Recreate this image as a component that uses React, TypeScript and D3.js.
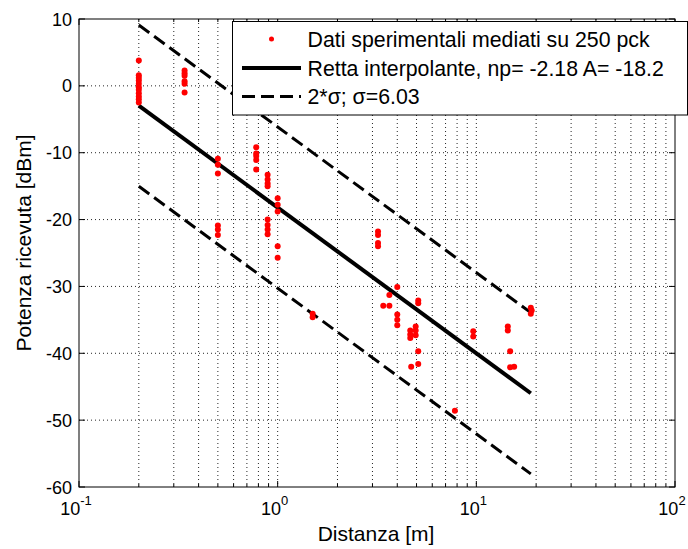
import React from 'react';
import * as d3 from 'd3';

// Data (distance [m], received power [dBm])
const distances = [
  0.2, 0.2, 0.2, 0.2, 0.2, 0.2, 0.2, 0.2, 0.2, 0.2, 0.2,
  0.34, 0.34, 0.34, 0.34, 0.34, 0.34,
  0.5, 0.5, 0.5, 0.5, 0.5, 0.5,
  0.78, 0.78, 0.78, 0.78, 0.78,
  0.89, 0.89, 0.89, 0.89, 0.89, 0.89, 0.89, 0.89,
  1.0, 1.0, 1.0, 1.0, 1.0,
  1.5, 1.5,
  3.2, 3.2, 3.2, 3.2,
  3.4, 3.65, 3.65,
  4.0, 4.0, 4.0, 4.0,
  4.65, 4.65, 4.65, 4.7,
  4.95, 4.95, 4.95,
  5.1, 5.1, 5.1, 5.1,
  7.8,
  9.65, 9.65,
  14.4, 14.4,
  14.8, 14.8, 15.5,
  18.8, 18.8, 19.0,
];
const powers = [
  3.8, 1.6, 1.2, 0.8, 0.3, -0.2, -0.6, -1.1, -1.6, -2.0, -2.5,
  2.3, 1.9, 1.5, 0.7, 0.3, -1.0,
  -10.9, -11.8, -13.1, -20.9, -21.5, -22.3,
  -9.2, -10.1, -10.5, -11.1, -12.5,
  -13.3, -14.0, -14.6, -15.0, -20.0, -20.8, -21.5, -22.2,
  -16.8, -17.8, -18.8, -24.0, -25.7,
  -34.1, -34.6,
  -21.8, -22.3, -23.5, -24.0,
  -32.9, -32.9, -31.3,
  -30.1, -34.2, -35.0, -35.8,
  -36.6, -37.2, -37.7, -42.0,
  -36.0, -36.6, -37.3,
  -32.1, -32.5, -39.7, -41.6,
  -48.6,
  -36.7, -37.5,
  -36.0, -36.6,
  -39.7, -42.1, -42.0,
  -33.2, -34.1, -33.6,
];

const np = -2.18;
const A = -18.2;
const sigma = 6.03;
const fitRange = [0.2, 18.8];

const xTickExps = [-1, 0, 1, 2];
const yTicks = [10, 0, -10, -20, -30, -40, -50, -60];
const legendLabels = [
  'Dati sperimentali mediati su 250 pck',
  'Retta interpolante, np= -2.18 A= -18.2',
  '2*σ; σ=6.03',
];
const xLabel = 'Distanza [m]';
const yLabel = 'Potenza ricevuta [dBm]';

const FONT = '"Liberation Sans", Arial, Helvetica, sans-serif';

export default function App() {
  const W = 688, H = 549;
  const left = 79, right = 675, top = 19, bottom = 487;
  const x = d3.scaleLog().domain([0.1, 100]).range([left, right]);
  const y = d3.scaleLinear().domain([-60, 10]).range([bottom, top]);

  const majors = xTickExps.map((e) => Math.pow(10, e));
  const minors: number[] = [];
  [0.1, 1, 10].forEach((dec) => {
    for (let k = 2; k <= 9; k++) minors.push(k * dec);
  });

  const fit = (d: number, off: number) => A + 10 * np * Math.log10(d) + off;
  const line = d3
    .line<[number, number]>()
    .x((p) => x(p[0]))
    .y((p) => y(p[1]));
  const mk = (off: number) =>
    line(fitRange.map((d) => [d, fit(d, off)] as [number, number])) || '';

  const gridStyle = { stroke: '#000', strokeWidth: 1, strokeDasharray: '1,3', opacity: 0.85 };

  const legX = 232.5, legY = 21.5, legW = 455, legH = 93.5;
  const rowY = [39, 68, 96.5];

  return (
    <svg
      width={W}
      height={H}
      style={{ position: 'absolute', left: 0, top: 0, background: '#fff' }}
      fontFamily={FONT}
    >
      <rect x={0} y={0} width={W} height={H} fill="#fff" />
      {/* grid */}
      {[...majors.slice(1, -1), ...minors].map((v, i) => (
        <line key={'gx' + i} x1={x(v)} x2={x(v)} y1={top} y2={bottom} style={gridStyle} />
      ))}
      {yTicks.slice(1, -1).map((v, i) => (
        <line key={'gy' + i} x1={left} x2={right} y1={y(v)} y2={y(v)} style={gridStyle} />
      ))}

      {/* fit lines */}
      <path d={mk(0)} fill="none" stroke="#000" strokeWidth={4} />
      <path d={mk(2 * sigma)} fill="none" stroke="#000" strokeWidth={3} strokeDasharray="13,6" />
      <path d={mk(-2 * sigma)} fill="none" stroke="#000" strokeWidth={3} strokeDasharray="13,6" />

      {/* data */}
      {distances.map((d, i) => (
        <circle key={'p' + i} cx={x(d)} cy={y(powers[i])} r={3} fill="#ff0000" />
      ))}

      {/* axes box */}
      <rect x={left} y={top} width={right - left} height={bottom - top} fill="none" stroke="#000" strokeWidth={1} />
      {/* ticks */}
      {majors.map((v, i) => (
        <g key={'xt' + i}>
          <line x1={x(v)} x2={x(v)} y1={bottom} y2={bottom - 6} stroke="#000" />
          <line x1={x(v)} x2={x(v)} y1={top} y2={top + 6} stroke="#000" />
        </g>
      ))}
      {minors.map((v, i) => (
        <g key={'xm' + i}>
          <line x1={x(v)} x2={x(v)} y1={bottom} y2={bottom - 3} stroke="#000" />
          <line x1={x(v)} x2={x(v)} y1={top} y2={top + 3} stroke="#000" />
        </g>
      ))}
      {yTicks.map((v, i) => (
        <g key={'yt' + i}>
          <line x1={left} x2={left + 6} y1={y(v)} y2={y(v)} stroke="#000" />
          <line x1={right} x2={right - 6} y1={y(v)} y2={y(v)} stroke="#000" />
        </g>
      ))}

      {/* tick labels */}
      {xTickExps.map((e, i) => (
        <text key={'xl' + i} x={x(Math.pow(10, e)) - 3} y={515} textAnchor="middle" fontSize={18} fill="#000">
          10
          <tspan dy={-10} fontSize={13}>{String(e)}</tspan>
        </text>
      ))}
      {yTicks.map((v, i) => (
        <text key={'yl' + i} x={72} y={y(v) + 6.5} textAnchor="end" fontSize={18} fill="#000">
          {String(v)}
        </text>
      ))}

      {/* axis labels */}
      <text x={376} y={541} textAnchor="middle" fontSize={21} fill="#000">{xLabel}</text>
      <text transform={`translate(31,243) rotate(-90)`} textAnchor="middle" fontSize={21} fill="#000">
        {yLabel}
      </text>

      {/* legend */}
      <rect x={legX} y={legY} width={legW} height={legH} fill="#fff" stroke="#000" strokeWidth={1} />
      <circle cx={271.5} cy={rowY[0]} r={2.5} fill="#ff0000" />
      <line x1={242} x2={301} y1={rowY[1]} y2={rowY[1]} stroke="#000" strokeWidth={4} />
      <line x1={242} x2={301} y1={rowY[2]} y2={rowY[2]} stroke="#000" strokeWidth={3} strokeDasharray="13,6" />
      {legendLabels.map((t, i) => (
        <text key={'lg' + i} x={307.5} y={rowY[i] + 7.5} fontSize={21.3} fill="#000">{t}</text>
      ))}
    </svg>
  );
}
